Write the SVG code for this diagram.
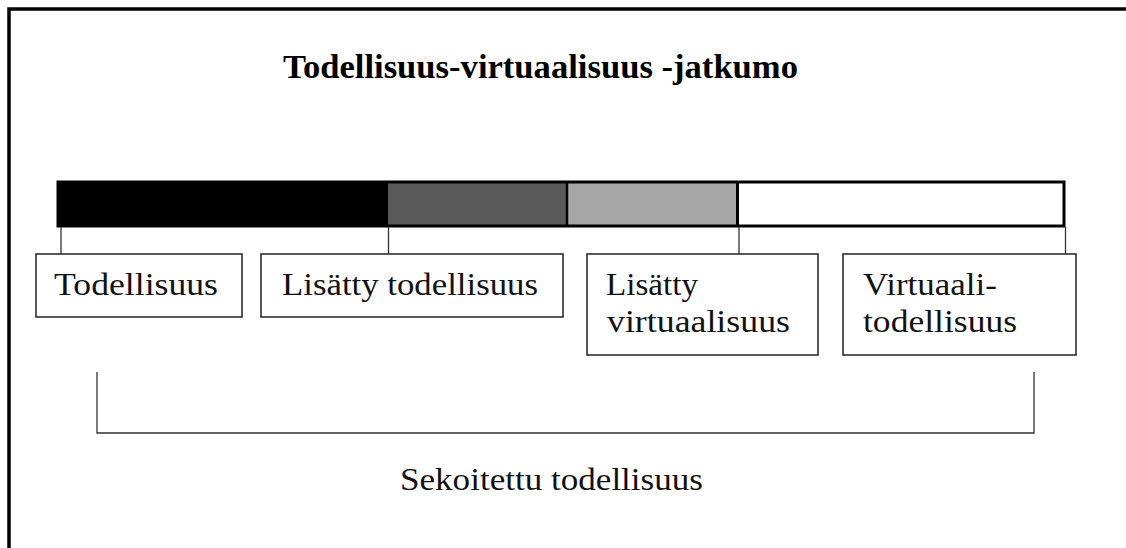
<svg xmlns="http://www.w3.org/2000/svg" width="1126" height="548" viewBox="0 0 1126 548">
<style>
.t{font-family:"Liberation Serif","Times New Roman",serif;font-size:31px;fill:#111}
.h{font-family:"Liberation Serif","Times New Roman",serif;font-size:34px;font-weight:bold;fill:#000}
.box{fill:#fff;stroke:#222;stroke-width:1.5}
.tick{stroke:#333;stroke-width:1.3;fill:none}
</style>
<rect id="frame" x="9" y="9" width="1140" height="570" fill="#fff" stroke="#000" stroke-width="3.5"/>
<text id="title" class="h" x="283" y="78" textLength="515" lengthAdjust="spacingAndGlyphs">Todellisuus-virtuaalisuus -jatkumo</text>
<g id="bar">
<rect x="58" y="182" width="330" height="44" fill="#000"/>
<rect x="388" y="182" width="179" height="44" fill="#595959"/>
<rect x="567" y="182" width="170" height="44" fill="#a6a6a6"/>
<rect x="737" y="182" width="327" height="44" fill="#fff"/>
<line x1="567" y1="182" x2="567" y2="226" stroke="#000" stroke-width="2.5"/>
<line x1="737.5" y1="182" x2="737.5" y2="226" stroke="#000" stroke-width="3"/>
<rect x="58" y="182" width="1006" height="44" fill="none" stroke="#000" stroke-width="3"/>
</g>
<g id="connectors">
<line class="tick" x1="61" y1="227" x2="61" y2="254"/>
<line class="tick" x1="388.5" y1="227" x2="388.5" y2="254"/>
<line class="tick" x1="739" y1="227" x2="739" y2="254"/>
<line class="tick" x1="1065.5" y1="227" x2="1065.5" y2="254"/>
<path class="tick" d="M97 372 V433 H1034 V372" stroke-width="1.5"/>
</g>
<g id="node-todellisuus">
<rect class="box" x="36" y="254" width="206" height="63"/>
<text class="t" x="54" y="295" textLength="164" lengthAdjust="spacingAndGlyphs">Todellisuus</text>
</g>
<g id="node-lisatty-todellisuus">
<rect class="box" x="261" y="254" width="302" height="63"/>
<text class="t" x="282" y="295" textLength="256" lengthAdjust="spacingAndGlyphs">Lisätty todellisuus</text>
</g>
<g id="node-lisatty-virtuaalisuus">
<rect class="box" x="587" y="254" width="231" height="101"/>
<text class="t" x="606" y="295" textLength="92" lengthAdjust="spacingAndGlyphs">Lisätty</text>
<text class="t" x="607" y="332" textLength="183" lengthAdjust="spacingAndGlyphs">virtuaalisuus</text>
</g>
<g id="node-virtuaalitodellisuus">
<rect class="box" x="843" y="254" width="233" height="101"/>
<text class="t" x="863" y="295" textLength="134" lengthAdjust="spacingAndGlyphs">Virtuaali-</text>
<text class="t" x="863" y="332" textLength="154" lengthAdjust="spacingAndGlyphs">todellisuus</text>
</g>
<g id="label-sekoitettu">
<text class="t" x="400" y="490" textLength="303" lengthAdjust="spacingAndGlyphs">Sekoitettu todellisuus</text>
</g>
</svg>
